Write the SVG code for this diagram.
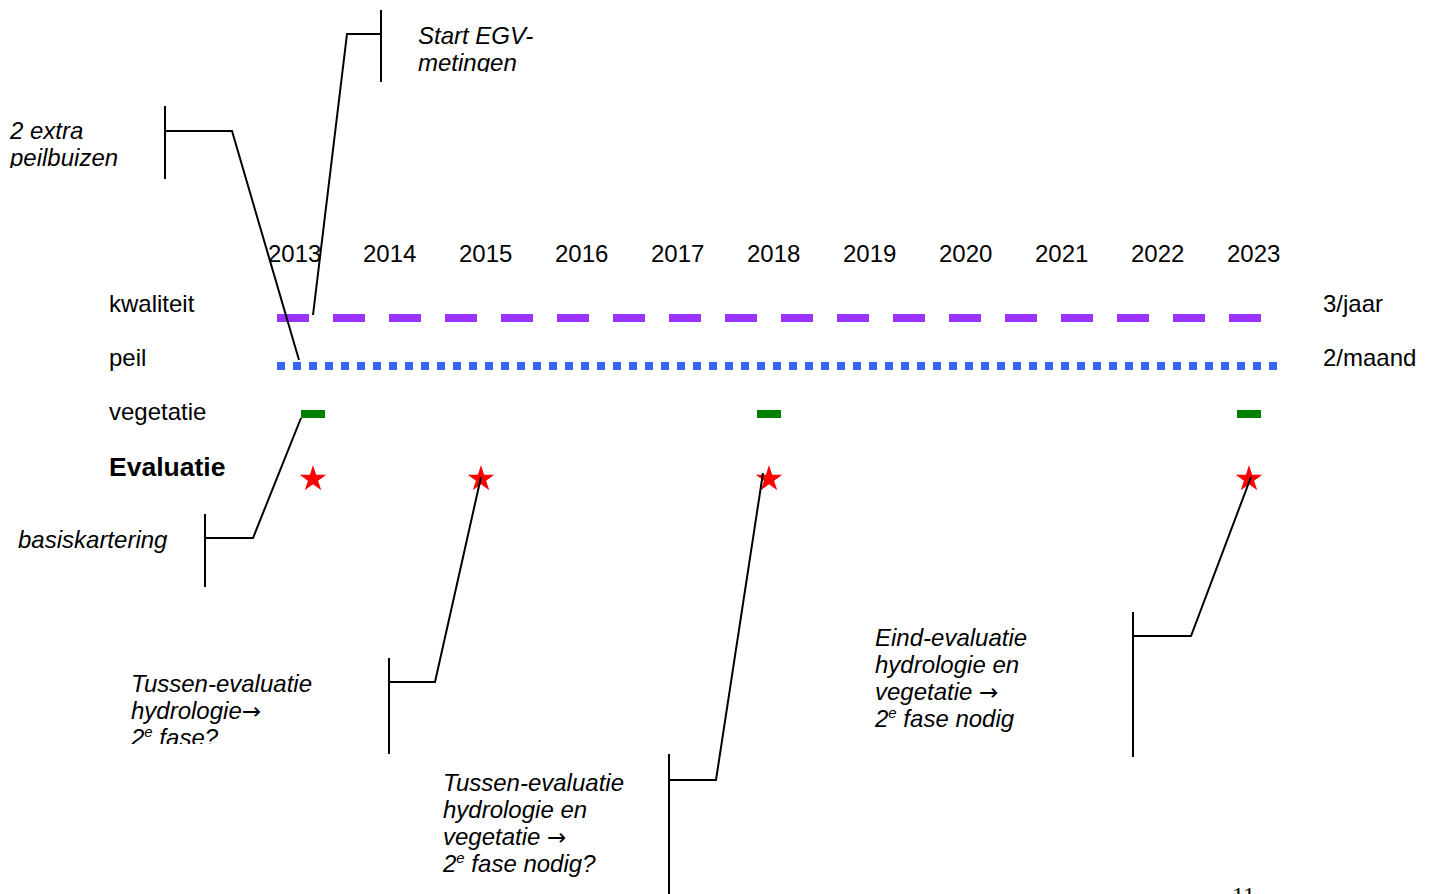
<svg xmlns="http://www.w3.org/2000/svg" width="1434" height="894" viewBox="0 0 1434 894">
<style>
.t{font-family:"Liberation Sans",Arial,sans-serif;font-size:24px;fill:#000}
.i{font-family:"Liberation Sans",Arial,sans-serif;font-size:24px;font-style:italic;fill:#000}
.b{font-family:"Liberation Sans",Arial,sans-serif;font-size:26.5px;font-weight:bold;fill:#000}
.c{fill:none;stroke:#000;stroke-width:2}
.sup{font-size:15px}
.ar{font-family:"DejaVu Sans",sans-serif;font-style:normal;font-size:23px}
</style>
<defs>
<polygon id="star" points="0,-14 3.14,-4.33 13.31,-4.33 5.09,1.65 8.23,11.33 0,5.35 -8.23,11.33 -5.09,1.65 -13.31,-4.33 -3.14,-4.33" fill="#FF0000"/>
<clipPath id="clipEGV"><rect x="400" y="0" width="200" height="72"/></clipPath>
<clipPath id="clipPeil"><rect x="0" y="100" width="160" height="68"/></clipPath>
<clipPath id="clipTE1"><rect x="120" y="660" width="260" height="84"/></clipPath>
</defs>
<rect width="1434" height="894" fill="#fff"/>

<g id="years" class="t">
<text x="268" y="262">2013</text>
<text x="363" y="262">2014</text>
<text x="459" y="262">2015</text>
<text x="555" y="262">2016</text>
<text x="651" y="262">2017</text>
<text x="747" y="262">2018</text>
<text x="843" y="262">2019</text>
<text x="939" y="262">2020</text>
<text x="1035" y="262">2021</text>
<text x="1131" y="262">2022</text>
<text x="1227" y="262">2023</text>
</g>

<g id="row-kwaliteit">
<text class="t" x="109" y="312">kwaliteit</text>
<line x1="277" y1="318" x2="1261" y2="318" stroke="#9933FF" stroke-width="8" stroke-dasharray="32 24"/>
<text class="t" x="1323" y="312">3/jaar</text>
</g>

<g id="row-peil">
<text class="t" x="109" y="366">peil</text>
<line x1="277" y1="366" x2="1277" y2="366" stroke="#3366FF" stroke-width="8" stroke-dasharray="8 8"/>
<text class="t" x="1323" y="366">2/maand</text>
</g>

<g id="row-vegetatie">
<text class="t" x="109" y="420">vegetatie</text>
<rect x="301" y="410" width="24" height="8" fill="#008000"/>
<rect x="757" y="410" width="24" height="8" fill="#008000"/>
<rect x="1237" y="410" width="24" height="8" fill="#008000"/>
</g>

<g id="row-evaluatie">
<text class="b" x="109" y="476">Evaluatie</text>
<use href="#star" x="313" y="479"/>
<use href="#star" x="481" y="479"/>
<use href="#star" x="769" y="479"/>
<use href="#star" x="1249" y="479"/>
</g>

<g id="label-egv" clip-path="url(#clipEGV)">
<text class="i" x="418" y="44">Start EGV-</text>
<text class="i" x="418" y="71">metingen</text>
</g>

<g id="label-peilbuizen" clip-path="url(#clipPeil)">
<text class="i" x="10" y="139">2 extra</text>
<text class="i" x="10" y="166">peilbuizen</text>
</g>

<g id="label-basis">
<text class="i" x="18" y="548">basiskartering</text>
</g>

<g id="label-tussen1" clip-path="url(#clipTE1)">
<text class="i" x="131" y="692">Tussen-evaluatie</text>
<text class="i" x="131" y="719">hydrologie<tspan class="ar">→</tspan></text>
<text class="i" x="131" y="746">2<tspan class="sup" dy="-9">e</tspan><tspan dy="9"> fase?</tspan></text>
</g>

<g id="label-tussen2">
<text class="i" x="443" y="791">Tussen-evaluatie</text>
<text class="i" x="443" y="818">hydrologie en</text>
<text class="i" x="443" y="845">vegetatie <tspan class="ar">→</tspan></text>
<text class="i" x="443" y="872">2<tspan class="sup" dy="-9">e</tspan><tspan dy="9"> fase nodig?</tspan></text>
</g>

<g id="label-eind">
<text class="i" x="875" y="646">Eind-evaluatie</text>
<text class="i" x="875" y="673">hydrologie en</text>
<text class="i" x="875" y="700">vegetatie <tspan class="ar">→</tspan></text>
<text class="i" x="875" y="727">2<tspan class="sup" dy="-9">e</tspan><tspan dy="9"> fase nodig</tspan></text>
</g>

<g id="connectors">
<path class="c" d="M381,10 V82 M381,34 H347 L313,315"/>
<path class="c" d="M165,106 V179 M165,131 H232 L299,360"/>
<path class="c" d="M205,514 V587 M205,538 H253 L301,418"/>
<path class="c" d="M389,658 V754 M389,682 H435 L481,477"/>
<path class="c" d="M669,754 V894 M669,780 H716 L763,473"/>
<path class="c" d="M1133,612 V757 M1133,636 H1191 L1251,477"/>
</g>

<text x="1232" y="903" font-family="'Liberation Serif','Times New Roman',serif" font-size="24" fill="#000">11</text>
</svg>
